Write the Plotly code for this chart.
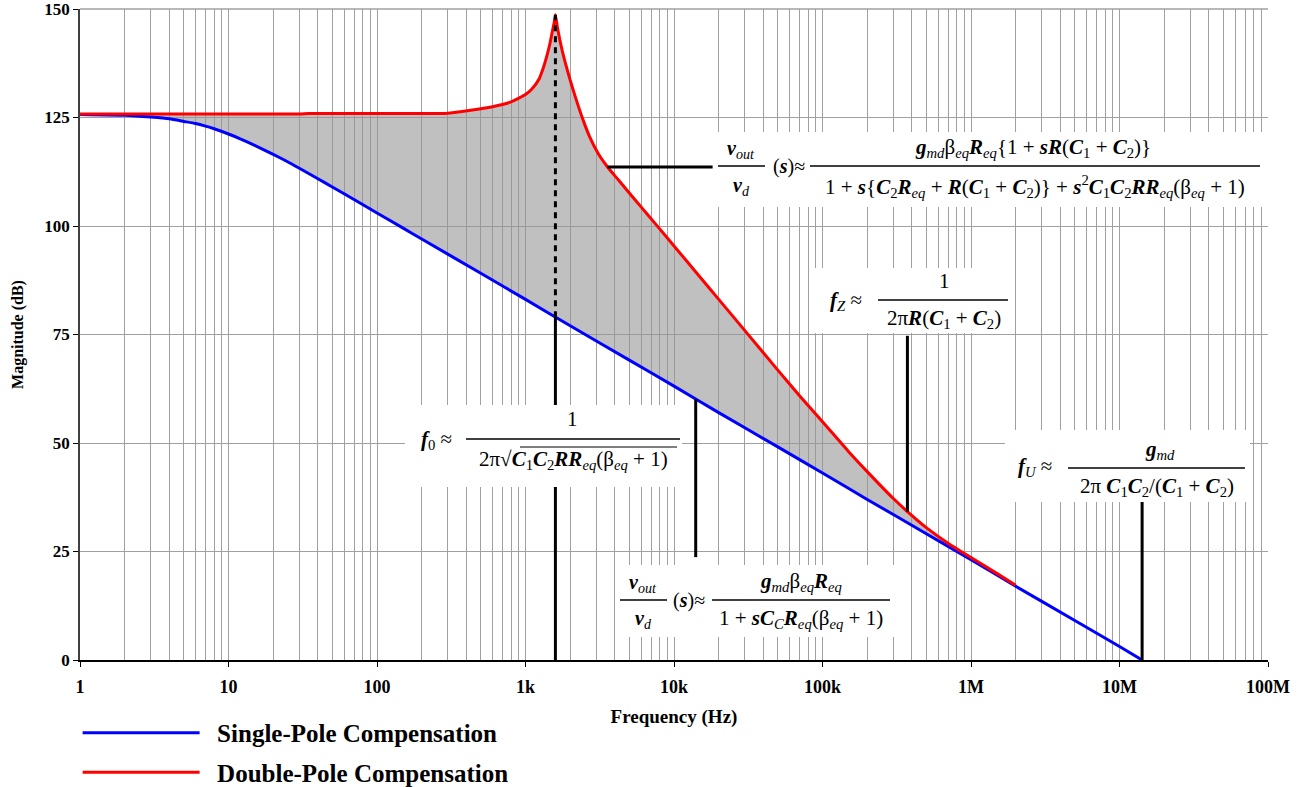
import plotly.graph_objects as go

# ---------------- data ----------------
freq_single = [1, 2, 3, 4, 5, 6, 7, 8, 10, 12, 15, 20, 25, 30, 40, 50, 70, 100, 150, 200,
               500, 1e3, 2e3, 5e3, 1e4, 2e4, 5e4, 1e5, 2e5, 5e5, 1e6, 2e6, 5e6, 1e7, 1.42e7]
mag_single = [125.7, 125.5, 125.1, 124.7, 124.1, 123.6, 123.0, 122.4, 121.2, 120.1, 118.6,
              116.5, 114.8, 113.3, 110.9, 109.0, 106.1, 103.0, 99.5, 97.0, 89.1, 83.1, 77.0,
              69.1, 63.1, 57.0, 49.1, 43.1, 37.0, 29.1, 23.1, 17.0, 9.1, 3.1, 0.0]

freq_double = [1, 10, 30, 35, 200, 300, 500, 700, 800, 1000, 1100, 1240, 1320, 1400, 1460,
               1520, 1560, 1590, 1640, 1700, 1770, 1850, 1950, 2040, 2200, 2420, 2700, 3100,
               3570, 4200, 5000, 6000, 7450, 1e4, 1.5e4, 2e4, 3e4, 5e4, 7e4,
               1e5, 1.5e5, 2e5, 3e5, 3.73e5, 5e5, 7e5, 1e6, 1.5e6, 2e6]
mag_double = [125.8, 125.8, 125.8, 125.9, 125.9, 126.0, 127.0, 128.0, 128.6, 130.3, 131.5,
              134.0, 136.5, 139.5, 142.0, 145.0, 146.9, 148.7, 145.8, 143.0, 140.3, 137.7,
              134.9, 132.6, 129.0, 124.8, 120.6, 116.6, 113.6, 110.7, 107.6,
              104.4, 100.6, 95.4, 88.2, 83.1, 75.9, 66.8, 60.9, 54.9, 48.0, 43.4, 37.2,
              34.2, 30.5, 26.9, 23.6, 19.9, 17.2]

x_tickvals = [1, 10, 100, 1e3, 1e4, 1e5, 1e6, 1e7, 1e8]
x_ticktext = ["1", "10", "100", "1k", "10k", "100k", "1M", "10M", "100M"]
y_tickvals = [0, 25, 50, 75, 100, 125, 150]

series_names = ["Single-Pole Compensation", "Double-Pole Compensation"]

# annotation leader lines (frequency, dB)
F0 = 1590
F0_BLUE, F0_PEAK = 79.0, 148.7
LEAD_EQ1_F, LEAD_EQ1_DB = [3570, 18200], [113.6, 113.6]
LEAD_EQ2_F, LEAD_EQ2_DB = [14000, 14000], [60.1, 23.7]
LEAD_FZ_F, LEAD_FZ_DB = [3.73e5, 3.73e5], [34.2, 74.7]
LEAD_FU_F, LEAD_FU_DB = [1.42e7, 1.42e7], [0.0, 36.8]

FONT = "Liberation Serif"
GRID = "#A0A0A0"

# ---------------- figure ----------------
fig = go.Figure()

# shaded region between the curves
blue_part = [(f, m) for f, m in zip(freq_single, mag_single) if f <= freq_double[-1]]
poly_x = list(freq_double) + [f for f, _ in reversed(blue_part)]
poly_y = list(mag_double) + [m for _, m in reversed(blue_part)]
fig.add_trace(go.Scatter(x=poly_x, y=poly_y, fill="toself", mode="none",
                         fillcolor="rgba(150,150,150,0.6)", showlegend=False,
                         hoverinfo="skip"))

fig.add_trace(go.Scatter(x=freq_single, y=mag_single, mode="lines",
                         name="\u2002<b>" + series_names[0] + "</b>",
                         line=dict(color="#0000FF", width=3, shape="spline", smoothing=0.5),
                         legendgroup="a"))
fig.add_trace(go.Scatter(x=freq_double, y=mag_double, mode="lines",
                         name="\u2002<b>" + series_names[1] + "</b>",
                         line=dict(color="#FF0000", width=3, shape="spline", smoothing=0.5),
                         legendgroup="b"))

def leader(xs, ys, dash="solid"):
    fig.add_trace(go.Scatter(x=xs, y=ys, mode="lines", showlegend=False, hoverinfo="skip",
                             line=dict(color="black", width=3, dash=dash)))

leader([F0, F0], [0, F0_BLUE])
leader([F0, F0], [F0_BLUE, F0_PEAK], dash="6px,5px")
leader(LEAD_EQ1_F, LEAD_EQ1_DB)
leader(LEAD_EQ2_F, LEAD_EQ2_DB)
leader(LEAD_FZ_F, LEAD_FZ_DB)
leader(LEAD_FU_F, LEAD_FU_DB)

# ---------------- formula boxes ----------------
L, R, T, B = 80, 1268, 9, 660
def px(x):
    return (x - L) / (R - L)
def py(y):
    return (B - y) / (B - T)

shapes = []
annots = []

# top border grid line (at 150 dB)
shapes.append(dict(type="line", xref="paper", yref="paper", x0=0, x1=1, y0=1, y1=1,
                   line=dict(color=GRID, width=1.5), layer="below"))

def box(x0, y0, x1, y1):
    shapes.append(dict(type="rect", xref="paper", yref="paper", x0=px(x0), x1=px(x1),
                       y0=py(y1), y1=py(y0), fillcolor="white", line=dict(width=0),
                       layer="above"))

def bar(x0, x1, y, w=1.3):
    shapes.append(dict(type="line", xref="paper", yref="paper", x0=px(x0), x1=px(x1),
                       y0=py(y), y1=py(y), line=dict(color="black", width=w), layer="above"))

def txt(x, y, s, size=21, anchor="center"):
    annots.append(dict(xref="paper", yref="paper", x=px(x), y=py(y), text=s,
                       showarrow=False, xanchor=anchor, yanchor="middle",
                       font=dict(family=FONT, size=size, color="black")))

def bi(s):
    return f"<b><i>{s}</i></b>"

def sb(s):
    return f"<sub>{s}</sub>"

Req = bi("R") + sb("<i>eq</i>")
beq = "β" + sb("<i>eq</i>")
gmd = bi("g") + sb("<i>md</i>")
C1 = bi("C") + sb("1")
C2 = bi("C") + sb("2")
vout = bi("v") + sb("<i>out</i>")
vd = bi("v") + sb("<i>d</i>")

# box 1 : double-pole transfer function
box(715, 132, 1263, 207)
txt(741, 149, vout, 20)
bar(718, 765, 166)
txt(741, 186, vd, 20)
txt(789, 166, "(" + bi("s") + ")≈", 20)
txt(1033, 148, gmd + beq + Req + "{1 + " + bi("sR") + "(" + C1 + " + " + C2 + ")}", 21)
bar(810, 1260, 166)
txt(1035, 186, "1 + " + bi("s") + "{" + C2 + Req + " + " + bi("R") + "(" + C1 + " + " + C2 +
    ")} + " + bi("s") + "<sup>2</sup>" + C1 + C2 + bi("RR") + sb("<i>eq</i>") +
    "(" + beq + " + 1)", 21)

# box fz
box(815, 268, 1012, 333)
txt(846, 301, bi("f") + sb("<i>Z</i>") + " ≈", 21)
txt(944, 281, "1", 21)
bar(878, 1008, 300)
txt(944, 319, "2π" + bi("R") + "(" + C1 + " + " + C2 + ")", 21)

# box f0
box(405, 405, 682, 487)
txt(436, 440, bi("f") + sb("0") + " ≈", 21)
txt(572, 419, "1", 21)
bar(466, 680, 439)
txt(573, 460, "2π√" + C1 + C2 + bi("RR") + sb("<i>eq</i>") + "(" + beq + " + 1)", 21)
bar(520, 677, 447, 1)

# box fU
box(1005, 430, 1250, 502)
txt(1035, 467, bi("f") + sb("<i>U</i>") + " ≈", 21)
txt(1160, 450, gmd, 21)
bar(1068, 1245, 468)
txt(1157, 487, "2π " + C1 + C2 + "/(" + C1 + " + " + C2 + ")", 21)

# box single-pole
box(615, 565, 894, 637)
txt(643, 583, vout, 20)
bar(620, 667, 600)
txt(643, 619, vd, 20)
txt(689, 600, "(" + bi("s") + ")≈", 20)
txt(801, 582, gmd + beq + Req, 21)
bar(712, 890, 600)
txt(801, 619, "1 + " + bi("s") + bi("C") + sb("<i>C</i>") + Req + "(" + beq + " + 1)", 21)

fig.update_layout(
    width=1315, height=787,
    margin=dict(l=80, r=47, t=9, b=127, autoexpand=False),
    paper_bgcolor="white", plot_bgcolor="white",
    font=dict(family=FONT, color="black"),
    shapes=shapes, annotations=annots,
    showlegend=True,
    legend=dict(x=-0.002, y=-0.0767, xanchor="left", yanchor="top",
                bgcolor="rgba(0,0,0,0)", itemwidth=117, tracegroupgap=4,
                font=dict(family=FONT, size=25, color="black"),
                itemclick=False, itemdoubleclick=False),
)

fig.update_xaxes(
    type="log", range=[0, 8],
    tickvals=x_tickvals, ticktext=[f"<b>{t}</b>" for t in x_ticktext],
    tickfont=dict(family=FONT, size=18, color="black"),
    ticks="outside", ticklen=5, tickcolor="black", ticklabelstandoff=5,
    showline=True, linecolor="black", linewidth=1.5,
    showgrid=True, gridcolor=GRID, gridwidth=1,
    minor=dict(dtick="D1", showgrid=True, gridcolor=GRID, gridwidth=1, ticks=""),
    title=dict(text="<b>Frequency (Hz)</b>", font=dict(family=FONT, size=19), standoff=13),
    zeroline=False,
)
fig.update_yaxes(
    range=[0, 150], tickmode="array", tickvals=y_tickvals,
    ticktext=[f"<b>{v}</b>" for v in y_tickvals],
    tickfont=dict(family=FONT, size=17, color="black"),
    ticklabeloverflow="allow",
    ticks="outside", ticklen=5, tickcolor="black",
    showline=True, linecolor="#404040", linewidth=1.5,
    showgrid=True, gridcolor=GRID, gridwidth=1,
    title=dict(text="<b>Magnitude (dB)</b>", font=dict(family=FONT, size=16), standoff=17),
    zeroline=False,
)

fig.write_html("out.html", config={"displayModeBar": False},
               post_script="document.body.style.margin='0px';")
